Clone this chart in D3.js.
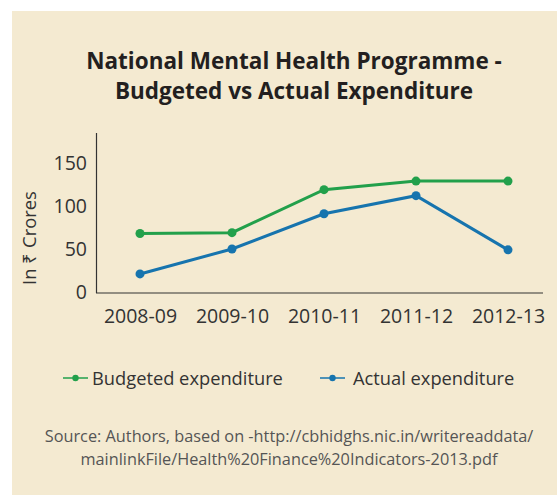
<!DOCTYPE html>
<html><head><meta charset="utf-8">
<script src="https://cdn.jsdelivr.net/npm/d3@7"></script>
<style>body{margin:0;background:#fff;} text{font-family:"Open Sans",sans-serif;}</style>
</head><body>
<svg id="c" width="557" height="495"></svg>
<script>
const categories = ["2008-09","2009-10","2010-11","2011-12","2012-13"];
const budgeted = [68, 69, 119, 129, 129];
const actual = [21, 50, 91, 112, 49];
const yTicks = [0, 50, 100, 150];
const seriesNames = ["Budgeted expenditure","Actual expenditure"];
const colors = ["#22a04b","#1674ae"];

const svg = d3.select("#c");
svg.append("rect").attr("x",12).attr("y",11).attr("width",545).attr("height",484).attr("fill","#f4ead1");

const title = svg.append("text").attr("text-anchor","middle").attr("font-weight","bold").attr("font-size",22.5).attr("fill","#231f20");
title.append("tspan").attr("x",294).attr("y",69).text("National Mental Health Programme -");
title.append("tspan").attr("x",294).attr("y",98.5).text("Budgeted vs Actual Expenditure");

const x = d3.scalePoint().domain(categories).range([140, 508]);
const y = d3.scaleLinear().domain([0,150]).range([292, 163]);

// axes lines
svg.append("line").attr("x1",96.5).attr("x2",96.5).attr("y1",133).attr("y2",293).attr("stroke","#333").attr("stroke-width",1.2);
svg.append("line").attr("x1",96).attr("x2",543).attr("y1",293).attr("y2",293).attr("stroke","#333").attr("stroke-width",1.2);

const yAxis = svg.append("g").attr("transform","translate(96,0)")
  .call(d3.axisLeft(y).tickValues(yTicks).tickSize(0).tickPadding(9));
yAxis.select(".domain").remove();
yAxis.selectAll("text").attr("font-size",19.5).attr("fill","#333").attr("font-family","'Open Sans',sans-serif");

const xAxis = svg.append("g").attr("transform","translate(0,293)")
  .call(d3.axisBottom(x).tickSize(0).tickPadding(16));
xAxis.select(".domain").remove();
xAxis.selectAll("text").attr("font-size",19.5).attr("fill","#333").attr("font-family","'Open Sans',sans-serif");

svg.append("text").attr("transform","translate(36,238) rotate(-90)").attr("text-anchor","middle")
  .attr("font-size",18.4).attr("fill","#333").text("In ₹ Crores");

const line = d3.line().x((d,i)=>x(categories[i])).y(d=>y(d));
[budgeted, actual].forEach((s,k)=>{
  svg.append("path").datum(s).attr("d",line).attr("fill","none").attr("stroke",colors[k]).attr("stroke-width",3);
  svg.selectAll(null).data(s).enter().append("circle")
    .attr("cx",(d,i)=>x(categories[i])).attr("cy",d=>y(d)).attr("r",4.5).attr("fill",colors[k]);
});

// legend
const legX = [63, 320];
const legGap = [29, 33];
seriesNames.forEach((n,k)=>{
  const g = svg.append("g").attr("transform",`translate(${legX[k]},378)`);
  g.append("line").attr("x1",0).attr("x2",25).attr("stroke",colors[k]).attr("stroke-width",1.5);
  g.append("circle").attr("cx",12.5).attr("r",3.2).attr("fill",colors[k]);
  g.append("text").attr("x",legGap[k]).attr("y",6.5).attr("font-size",18.3).attr("fill","#333").text(n);
});

const src = svg.append("text").attr("text-anchor","middle").attr("font-size",16.3).attr("fill","#555");
src.append("tspan").attr("x",289).attr("y",442).text("Source: Authors, based on -http://cbhidghs.nic.in/writereaddata/");
src.append("tspan").attr("x",289).attr("y",465).text("mainlinkFile/Health%20Finance%20Indicators-2013.pdf");
</script>
</body></html>
